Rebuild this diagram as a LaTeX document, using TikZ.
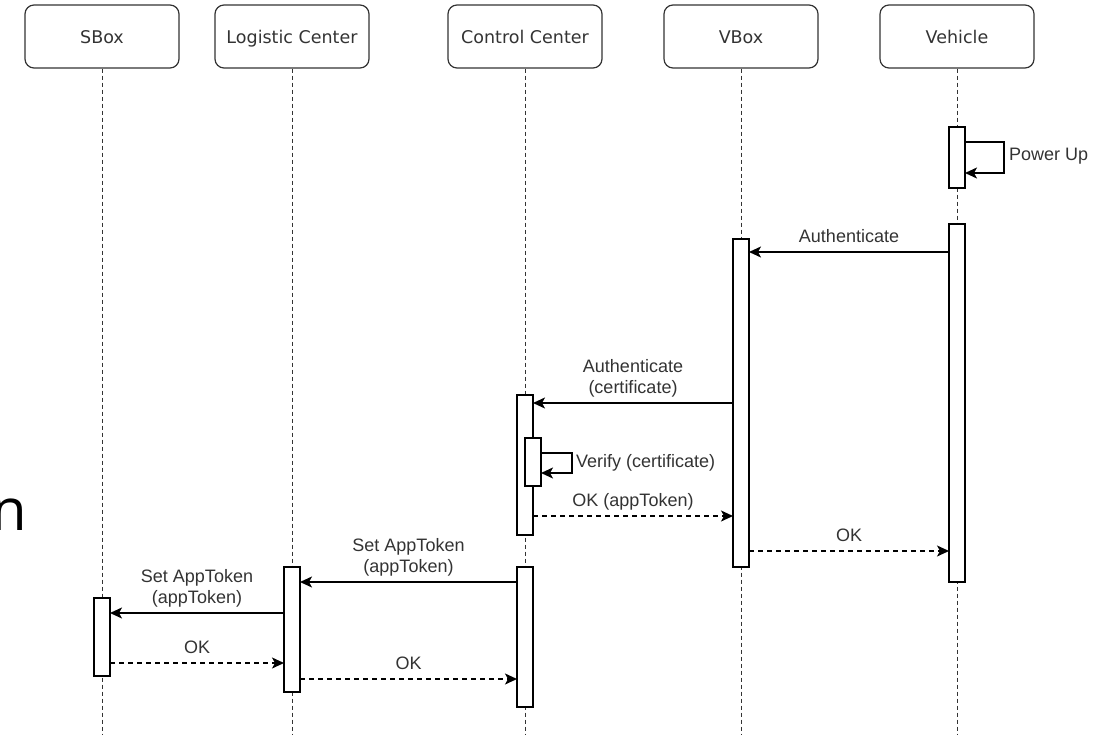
\documentclass[tikz,border=0pt]{standalone}
\usepackage{fontspec}
\setmainfont{Liberation Sans}
\newfontfamily\headfont{DejaVu Sans}
\newfontfamily\bigfont{Open Sans}
\usetikzlibrary{arrows.meta}
\definecolor{ink}{HTML}{333333}

\begin{document}
\begin{tikzpicture}[x=1pt,y=-1pt,
  head/.style={draw=ink, line width=1.2pt, rounded corners=9pt,
    minimum width=154pt, minimum height=63pt, inner sep=0pt,
    text height=13.6pt, text depth=0pt,
    font=\headfont\fontsize{17.5}{20}\selectfont, text=ink},
  life/.style={draw=ink, line width=1pt, dash pattern=on 4pt off 3pt},
  act/.style={draw=black, fill=white, line width=1.5pt,
    minimum width=16pt, inner sep=0pt, outer sep=0pt},
  msg/.style={draw=black, line width=1.5pt,
    -{Stealth[length=12pt,width=11pt,inset=3pt]}},
  reply/.style={msg, dash pattern=on 5pt off 4pt},
  lbl/.style={font=\fontsize{18}{21}\selectfont, text=ink,
    align=center, inner sep=2pt}
]
\useasboundingbox (0,0) rectangle (1115,735);

% participants
\node[head] (sbox) at (102,36.5) {SBox};
\node[head] (lc)   at (292,36.5) {Logistic Center};
\node[head] (cc)   at (525,36.5) {Control Center};
\node[head] (vbox) at (741,36.5) {VBox};
\node[head] (veh)  at (957,36.5) {Vehicle};

% lifelines
\foreach \p in {sbox,lc,cc,vbox,veh}
  \draw[life] (\p.south) -- (\p.south |- 0,735);

% activation bars
\node[act, minimum height=61pt]  (vehP)  at (957,157.5) {};
\node[act, minimum height=358pt] (vehA)  at (957,403) {};
\node[act, minimum height=328pt] (vboxA) at (741,403) {};
\node[act, minimum height=140pt] (ccA)   at (525,465) {};
\node[act, minimum height=48pt]  (ccV)   at (533,462) {};
\node[act, minimum height=140pt] (ccB)   at (525,637) {};
\node[act, minimum height=125pt] (lcA)   at (292,629.5) {};
\node[act, minimum height=78pt]  (sbA)   at (102,637) {};

% self calls
\draw[msg] (vehP.east |- 0,142) -- (1004,142) -- (1004,173) -- (vehP.east |- 0,173);
\node[lbl, anchor=west] (powerup) at (1007,156) {Power Up};

\draw[msg] (ccV.east |- 0,453) -- (572,453) -- (572,473) -- (ccV.east |- 0,473);
\node[lbl, anchor=west] (verify) at (574,463) {Verify (certificate)};

% messages
\draw[msg] (vehA.west |- 0,252) --
  node[lbl, above=0pt] (m1) {Authenticate\strut} (vboxA.east |- 0,252);
\draw[msg] (vboxA.west |- 0,403) --
  node[lbl, above=0pt] (m2) {Authenticate\\(certificate)\strut} (ccA.east |- 0,403);
\draw[reply] (ccA.east |- 0,516) --
  node[lbl, above=0pt] (m3) {OK (appToken)\strut} (vboxA.west |- 0,516);
\draw[reply] (vboxA.east |- 0,551) --
  node[lbl, above=0pt] (m4) {OK\strut} (vehA.west |- 0,551);
\draw[msg] (ccB.west |- 0,582) --
  node[lbl, above=0pt] (m5) {Set AppToken\\(appToken)\strut} (lcA.east |- 0,582);
\draw[msg] (lcA.west |- 0,613) --
  node[lbl, above=0pt] (m6) {Set AppToken\\(appToken)\strut} (sbA.east |- 0,613);
\draw[reply] (sbA.east |- 0,663) --
  node[lbl, above=0pt] (m7) {OK\strut} (lcA.west |- 0,663);
\draw[reply] (lcA.east |- 0,679) --
  node[lbl, above=0pt] (m8) {OK\strut} (ccB.west |- 0,679);

% partly visible glyph at the left edge
\node[font=\bigfont\fontsize{58}{60}\selectfont, anchor=base east,
  inner sep=0pt, text=black] (edge) at (27,530) {n};
\end{tikzpicture}
\end{document}
